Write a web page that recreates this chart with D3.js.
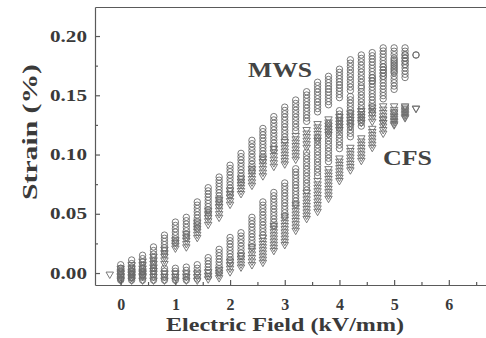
<!DOCTYPE html>
<html>
<head>
<meta charset="utf-8">
<script src="https://cdn.jsdelivr.net/npm/d3@7"></script>
<style>
  html, body { margin: 0; padding: 0; background: #fff; }
  svg { display: block; }
  text { font-family: "Liberation Serif", "DejaVu Serif", serif; font-weight: bold; fill: #3a3a3a; }
</style>
</head>
<body>
<div id="chart"></div>
<script>
// electric field points (kV/mm)
const field = [0, 0.2, 0.4, 0.6, 0.8, 1.0, 1.2, 1.4, 1.6, 1.8, 2.0, 2.2, 2.4, 2.6,
  2.8, 3.0, 3.2, 3.4, 3.6, 3.8, 4.0, 4.2, 4.4, 4.6, 4.8, 5.0, 5.2, 5.4]

// strain (%) spread of the repeated cycles, top and bottom of each column
const mwsDownHi = [.007, .011, .015, .022, .032, .043, .047, .060, .072, .081, .091, .101, .112, .122,
  .132, .140, .146, .153, .161, .166, .172, .180, .184, .186, .190, .190, .190, .184]
const mwsDownLo = [-.005, -.004, -.002, .004, .016, .026, .030, .038, .048, .057, .066, .076, .086, .095,
  .104, .112, .120, .128, .136, .142, .148, .154, .158, .162, .166, .170, .176, .184]
const mwsUpHi = [.004, .004, .004, .004, .004, .004, .005, .007, .013, .020, .030, .034, .047, .060,
  .068, .076, .088, .102, .114, .126, .137, .149, .156, .165, .174, .180, .184, .184]
const mwsUpLo = [-.006, -.006, -.006, -.006, -.006, -.006, -.006, -.005, -.003, .001, .008, .014, .022, .032,
  .040, .048, .058, .070, .082, .094, .105, .115, .124, .135, .147, .155, .165, .184]

const cfsDownHi = [.004, .007, .010, .014, .020, .028, .033, .043, .053, .062, .070, .080, .088, .097,
  .105, .111, .116, .121, .126, .130, .132, .135, .137, .140, .141, .141, .141, .139]
const cfsDownLo = [-.005, -.004, -.002, .002, .008, .021, .022, .030, .041, .047, .058, .067, .074, .082,
  .090, .092, .096, .106, .112, .117, .121, .124, .127, .128, .127, .126, .131, .139]
const cfsUpHi = [.000, .000, .000, .000, .000, .000, .000, .000, .001, .003, .010, .015, .022, .030,
  .040, .048, .058, .068, .078, .088, .097, .106, .114, .122, .130, .136, .140, .139]
const cfsUpLo = [-.006, -.006, -.006, -.006, -.006, -.006, -.006, -.006, -.005, -.004, .001, .005, .007, .009,
  .019, .024, .036, .046, .052, .063, .078, .087, .095, .106, .118, .125, .132, .139]
// lone first point of CFS
const cfsStartField = [-0.2]
const cfsStartStrain = [-0.001]

const xTicks = [0, 1, 2, 3, 4, 5, 6]
const xMinor = [0.5, 1.5, 2.5, 3.5, 4.5, 5.5, 6.5]
const yTicks = [0, 0.05, 0.10, 0.15, 0.20]
const yMinor = [0.025, 0.075, 0.125, 0.175]

const width = 486
const height = 338
const plot = {left: 95, right: 486, top: 7, bottom: 285}
const ink = '#5a5a5a'
const markColor = '#6c6c6c'

const svg = d3.select('#chart').append('svg')
  .attr('width', width)
  .attr('height', height)

const x = d3.scaleLinear().domain([-0.47, 6.68]).range([plot.left, plot.right])
const y = d3.scaleLinear().domain([-0.0101, 0.2245]).range([plot.bottom, plot.top])

// stack of markers over one column range
function stack (e, lo, hi) {
  const y0 = y(hi), y1 = y(lo)
  const n = Math.max(1, Math.round((y1 - y0) / 3.3) + 1)
  const pts = []
  for (let k = 0; k < n; k++) {
    pts.push([x(e), n === 1 ? y0 : y0 + k * (y1 - y0) / (n - 1)])
  }
  return pts
}

function bandPoints (lo, hi) {
  return field.flatMap((e, i) => stack(e, lo[i], hi[i]))
}

const marks = svg.append('g')

const circles = bandPoints(mwsDownLo, mwsDownHi).concat(bandPoints(mwsUpLo, mwsUpHi))
marks.append('g').selectAll('circle')
  .data(circles)
  .join('circle')
  .attr('cx', d => d[0])
  .attr('cy', d => d[1])
  .attr('r', 3.2)
  .style('fill', 'none')
  .style('stroke', markColor)
  .style('stroke-width', 0.9)

const tri = d3.symbol(d3.symbolTriangle, 24)
const triangles = bandPoints(cfsDownLo, cfsDownHi)
  .concat(bandPoints(cfsUpLo, cfsUpHi))
  .concat(cfsStartField.map((e, i) => [x(e), y(cfsStartStrain[i])]))
marks.append('g').selectAll('path')
  .data(triangles)
  .join('path')
  .attr('d', tri)
  .attr('transform', d => `translate(${d[0]},${d[1]}) rotate(180)`)
  .style('fill', 'none')
  .style('stroke', markColor)
  .style('stroke-width', 0.9)

// axes
function styleAxis (g) {
  g.selectAll('path, line').style('stroke', ink).style('stroke-width', 1.2)
  g.selectAll('text').style('fill', '#3a3a3a')
}

const xAxis = svg.append('g')
  .attr('transform', `translate(0, ${plot.bottom})`)
  .call(d3.axisBottom(x).tickValues(xTicks).tickSizeInner(-5).tickSizeOuter(0).tickPadding(14))
xAxis.call(styleAxis)
xAxis.selectAll('text')
  .style('font-size', '16px')
  .style('font-family', '"Liberation Serif", serif')
  .style('font-weight', 'bold')

svg.append('g')
  .attr('transform', `translate(0, ${plot.bottom})`)
  .call(d3.axisBottom(x).tickValues(xMinor).tickSizeInner(-3).tickSizeOuter(0).tickFormat(''))
  .call(styleAxis)
  .select('.domain').remove()

const yAxis = svg.append('g')
  .attr('transform', `translate(${plot.left}, 0)`)
  .call(d3.axisLeft(y).tickValues(yTicks).tickSizeInner(-5).tickSizeOuter(0)
    .tickPadding(8).tickFormat(d3.format('.2f')))
yAxis.call(styleAxis)
yAxis.selectAll('text')
  .style('font-size', '16px')
  .style('font-family', '"Liberation Serif", serif')
  .style('font-weight', 'bold')
  .attr('textLength', 37)
  .attr('lengthAdjust', 'spacingAndGlyphs')

svg.append('g')
  .attr('transform', `translate(${plot.left}, 0)`)
  .call(d3.axisLeft(y).tickValues(yMinor).tickSizeInner(-3).tickSizeOuter(0).tickFormat(''))
  .call(styleAxis)
  .select('.domain').remove()

// top frame line
svg.append('g')
  .attr('transform', `translate(0, ${plot.top})`)
  .call(d3.axisTop(x).tickValues([]).tickSizeOuter(0))
  .call(styleAxis)

// titles
svg.append('text')
  .attr('x', 285)
  .attr('y', 331)
  .attr('text-anchor', 'middle')
  .attr('textLength', 238)
  .attr('lengthAdjust', 'spacingAndGlyphs')
  .style('font-size', '19px')
  .text('Electric Field (kV/mm)')

svg.append('text')
  .attr('transform', 'translate(37, 132) rotate(-90)')
  .attr('text-anchor', 'middle')
  .attr('textLength', 136)
  .attr('lengthAdjust', 'spacingAndGlyphs')
  .style('font-size', '21px')
  .text('Strain (%)')

svg.append('text')
  .attr('x', 248)
  .attr('y', 77)
  .attr('textLength', 64)
  .attr('lengthAdjust', 'spacingAndGlyphs')
  .style('font-size', '21px')
  .style('fill', '#444')
  .text('MWS')

svg.append('text')
  .attr('x', 383)
  .attr('y', 165)
  .attr('textLength', 49)
  .attr('lengthAdjust', 'spacingAndGlyphs')
  .style('font-size', '21px')
  .style('fill', '#444')
  .text('CFS')
</script>
</body>
</html>
